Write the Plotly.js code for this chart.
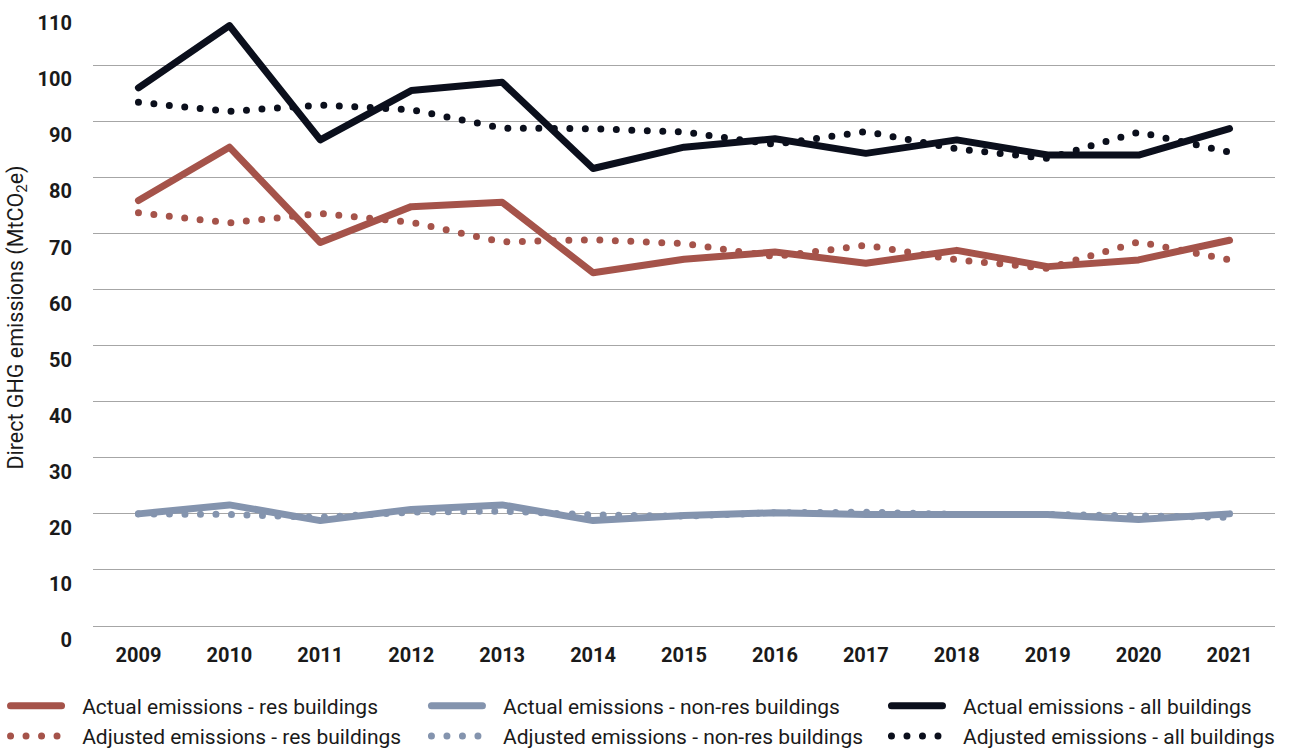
<!DOCTYPE html>
<html>
<head>
<meta charset="utf-8">
<script src="https://cdn.plot.ly/plotly-3.0.1.min.js"></script>
<style>
html,body{margin:0;padding:0;background:#fff;}
#chart{width:1289px;height:752px;}
path.js-line{stroke-linecap:round !important;stroke-linejoin:round !important;}
</style>
</head>
<body>
<div id="chart"></div>
<script>
const years = ['2009','2010','2011','2012','2013','2014','2015','2016','2017','2018','2019','2020','2021'];
const actualRes    = [75.9, 85.4, 68.4, 74.8, 75.6, 63.0, 65.4, 66.7, 64.7, 67.0, 64.1, 65.3, 68.8];
const actualNonRes = [20.0, 21.6, 18.8, 20.8, 21.6, 18.8, 19.7, 20.2, 19.9, 19.9, 19.9, 19.0, 20.0];
const actualAll    = [96.0, 107.1, 86.7, 95.5, 97.0, 81.6, 85.4, 86.9, 84.3, 86.7, 84.0, 84.0, 88.7];
const adjustedRes    = [73.7, 71.9, 73.6, 72.0, 68.5, 68.9, 68.2, 65.9, 67.9, 65.3, 63.8, 68.5, 65.3];
const adjustedNonRes = [20.0, 19.9, 19.4, 20.3, 20.5, 19.8, 19.6, 20.2, 20.3, 19.9, 19.9, 19.5, 19.4];
const adjustedAll    = [93.4, 91.8, 92.9, 92.1, 88.8, 88.7, 88.1, 85.9, 88.2, 85.1, 83.4, 88.1, 84.5];
const seriesNames = [
  'Actual emissions - res buildings',
  'Actual emissions - non-res buildings',
  'Actual emissions - all buildings',
  'Adjusted emissions - res buildings',
  'Adjusted emissions - non-res buildings',
  'Adjusted emissions - all buildings'
];
const yTicks = [0,10,20,30,40,50,60,70,80,90,100,110];

const cRes = '#A5534A', cNon = '#8494AE', cAll = '#0B0F1C';
const dotDash = '0px,15.5px';
const pad = '\u00A0\u00A0\u00A0';

function solid(name, y, color, leg){
  return {type:'scatter', mode:'lines', x:years, y:y, name:pad + name,
    line:{color:color, width:7}, legend:leg, legendgroup:name, hoverinfo:'skip'};
}
function dotted(name, y, color, leg){
  return {type:'scatter', mode:'lines', x:years, y:y, name:pad + name,
    line:{color:color, width:7, dash:dotDash}, legend:leg, legendgroup:name, hoverinfo:'skip'};
}

const data = [
  dotted(seriesNames[4], adjustedNonRes, cNon, 'legend2'),
  solid(seriesNames[1], actualNonRes, cNon, 'legend2'),
  dotted(seriesNames[3], adjustedRes, cRes, 'legend'),
  solid(seriesNames[0], actualRes, cRes, 'legend'),
  dotted(seriesNames[5], adjustedAll, cAll, 'legend3'),
  solid(seriesNames[2], actualAll, cAll, 'legend3')
];

const legBase = {
  orientation:'v', yanchor:'top', xanchor:'left', y:-0.0964,
  font:{family:'Roboto, sans-serif', size:21, color:'#1a1a1a'},
  bgcolor:'rgba(0,0,0,0)', itemwidth:51, tracegroupgap:8, traceorder:'reversed'
};

const layout = {
  width:1289, height:752,
  margin:{l:93, r:14, t:9, b:125.5, autoexpand:false},
  paper_bgcolor:'#fff', plot_bgcolor:'#fff',
  font:{family:'Roboto, sans-serif', color:'#1a1a1a'},
  showlegend:true,
  xaxis:{type:'category', range:[-0.5,12.5], showgrid:false, zeroline:false,
    showline:false, ticks:'',
    tickfont:{family:'Roboto, sans-serif', size:20, color:'#1a1a1a', weight:'bold'},
    ticklabelstandoff:15},
  yaxis:{range:[0,110.05], tickvals:yTicks, showgrid:true, gridcolor:'#a6a6a6', gridwidth:1,
    zeroline:true, zerolinecolor:'#a6a6a6', zerolinewidth:1, showline:false, ticks:'',
    tickfont:{family:'Roboto, sans-serif', size:20, color:'#1a1a1a', weight:'bold'},
    ticklabelstandoff:20, ticklabelshift:14,
    title:{text:'Direct GHG emissions (MtCO<sub>2</sub>e)', standoff:8,
      font:{family:'Roboto, sans-serif', size:21.5, color:'#1a1a1a'}}},
  legend: Object.assign({}, legBase, {x:-0.074}),
  legend2: Object.assign({}, legBase, {x:0.2821}),
  legend3: Object.assign({}, legBase, {x:0.6713})
};

Plotly.newPlot('chart', data, layout, {displayModeBar:false, staticPlot:true});
</script>
</body>
</html>
